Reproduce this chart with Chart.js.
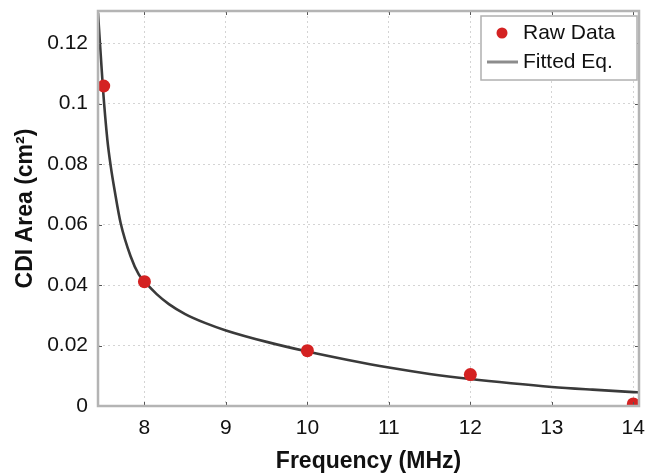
<!DOCTYPE html>
<html>
<head>
<meta charset="utf-8">
<script src="https://cdn.jsdelivr.net/npm/chart.js@4/dist/chart.umd.min.js"></script>
<style>
  html, body { margin: 0; padding: 0; background: #ffffff; }
  #wrap { width: 652px; height: 475px; }
</style>
</head>
<body>
<div id="wrap"><canvas id="c" width="652" height="475"></canvas></div>
<script>
// Raw measurements
const rawFreq = [7.5, 8, 10, 12, 14];
const rawArea = [0.1058, 0.0411, 0.0183, 0.0104, 0.0007];

// Fitted curve
const fitFreq = [7.43, 7.49, 7.545, 7.588, 7.636, 7.707, 7.83, 7.93, 8.0, 8.15, 8.3, 8.5, 8.75, 9.0, 9.5, 10.0, 10.5, 11.0, 11.5, 12.0, 12.5, 13.0, 13.5, 14.0, 14.07];
const fitArea = [0.130, 0.1053, 0.088, 0.079, 0.071, 0.0606, 0.0495, 0.0435, 0.0412, 0.0370, 0.0337, 0.0304, 0.0274, 0.0250, 0.0212, 0.0180, 0.0152, 0.0127, 0.0106, 0.0089, 0.0075, 0.0063, 0.0054, 0.0046, 0.0045];

// Tick values
const xTicks = [8, 9, 10, 11, 12, 13, 14];
const yTicks = [0, 0.02, 0.04, 0.06, 0.08, 0.1, 0.12];

const seriesNames = ['Raw Data', 'Fitted Eq.'];
const xTitle = 'Frequency (MHz)';
const yTitle = 'CDI Area (cm\u00B2)';

const FONT = '"Liberation Sans", Arial, Helvetica, sans-serif';

const frameAndLegend = {
  id: 'frameAndLegend',
  afterDatasetsDraw(chart) {
    const {ctx, chartArea: a} = chart;
    ctx.save();
    const xs = chart.scales.x, ys = chart.scales.y;
    ctx.strokeStyle = '#555';
    ctx.lineWidth = 1;
    xTicks.forEach(v => {
      const px = Math.round(xs.getPixelForValue(v)) + 0.5;
      ctx.beginPath(); ctx.moveTo(px, a.bottom); ctx.lineTo(px, a.bottom - 4); ctx.stroke();
      ctx.beginPath(); ctx.moveTo(px, a.top); ctx.lineTo(px, a.top + 4); ctx.stroke();
    });
    yTicks.forEach(v => {
      const py = Math.round(ys.getPixelForValue(v)) + 0.5;
      ctx.beginPath(); ctx.moveTo(a.left, py); ctx.lineTo(a.left + 4, py); ctx.stroke();
      ctx.beginPath(); ctx.moveTo(a.right, py); ctx.lineTo(a.right - 4, py); ctx.stroke();
    });
    ctx.strokeStyle = '#b4b4b4';
    ctx.lineWidth = 2.5;
    ctx.strokeRect(a.left, a.top, a.right - a.left, a.bottom - a.top);
    ctx.restore();
  },
  afterDraw(chart) {
    const {ctx, chartArea: a} = chart;
    const ds = chart.data.datasets;
    ctx.save();
    const bw = 156, bh = 64;
    const bx = a.right - 158, by = a.top + 5;
    ctx.fillStyle = '#ffffff';
    ctx.fillRect(bx, by, bw, bh);
    ctx.strokeStyle = '#b0b0b0';
    ctx.lineWidth = 1.5;
    ctx.strokeRect(bx, by, bw, bh);
    ctx.font = '21px ' + FONT;
    ctx.textBaseline = 'middle';
    ctx.beginPath();
    ctx.arc(bx + 21, by + 17, 5.5, 0, Math.PI * 2);
    ctx.fillStyle = ds[0].backgroundColor;
    ctx.fill();
    ctx.fillStyle = '#111';
    ctx.fillText(ds[0].label, bx + 42, by + 17);
    ctx.strokeStyle = '#8c8c8c';
    ctx.lineWidth = 3;
    ctx.beginPath();
    ctx.moveTo(bx + 6, by + 46); ctx.lineTo(bx + 37, by + 46);
    ctx.stroke();
    ctx.fillText(ds[1].label, bx + 42, by + 46);
    ctx.restore();
  }
};

new Chart(document.getElementById('c'), {
  type: 'scatter',
  data: {
    datasets: [
      {
        label: seriesNames[0],
        data: rawFreq.map((f, i) => ({x: f, y: rawArea[i]})),
        backgroundColor: '#d42222',
        borderColor: '#d42222',
        pointRadius: 6.5,
        pointBorderWidth: 0,
        showLine: false
      },
      {
        label: seriesNames[1],
        data: fitFreq.map((f, i) => ({x: f, y: fitArea[i]})),
        borderColor: '#3a3a3a',
        backgroundColor: '#3a3a3a',
        borderWidth: 2.6,
        pointRadius: 0,
        showLine: true,
        cubicInterpolationMode: 'monotone'
      }
    ]
  },
  options: {
    responsive: false,
    animation: false,
    layout: { padding: { top: 11, right: 13, left: 0, bottom: 0 } },
    plugins: {
      legend: { display: false },
      tooltip: { enabled: false }
    },
    scales: {
      x: {
        type: 'linear',
        min: 7.43,
        max: 14.07,
        afterFit: s => { s.height = 69; s.paddingLeft = 0; s.paddingRight = 0; },
        afterBuildTicks: s => { s.ticks = xTicks.map(v => ({value: v})); },
        grid: { color: '#d4d4d4', drawTicks: false, lineWidth: 1 },
        border: { display: false, dash: [2, 3] },
        ticks: {
          padding: 10,
          color: '#111',
          font: { family: FONT, size: 21 },
          callback: v => String(v)
        },
        title: {
          display: true,
          text: xTitle,
          color: '#111',
          font: { family: FONT, size: 23, weight: 'bold' },
          padding: { top: 0, bottom: 0 }
        }
      },
      y: {
        type: 'linear',
        min: 0,
        max: 0.1306,
        afterFit: s => { s.width = 98; s.paddingTop = 0; s.paddingBottom = 0; },
        afterBuildTicks: s => { s.ticks = yTicks.map(v => ({value: v})); },
        grid: { color: '#d4d4d4', drawTicks: false, lineWidth: 1 },
        border: { display: false, dash: [2, 3] },
        ticks: {
          padding: 10,
          color: '#111',
          font: { family: FONT, size: 21 },
          callback: v => String(+v.toFixed(4))
        },
        title: {
          display: true,
          text: yTitle,
          color: '#111',
          font: { family: FONT, size: 23, weight: 'bold' },
          padding: { top: 12, bottom: 0 }
        }
      }
    }
  },
  plugins: [frameAndLegend]
});
</script>
</body>
</html>
